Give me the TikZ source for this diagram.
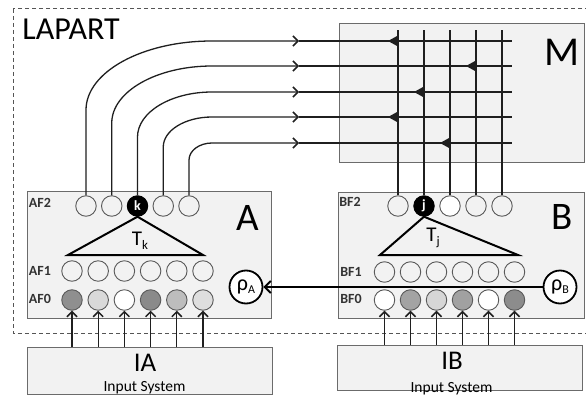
\documentclass[tikz,border=0pt]{standalone}
\usepackage{fontspec}
\setmainfont{Carlito}
\usetikzlibrary{arrows.meta}
\definecolor{boxc}{HTML}{6B6B6B}
\definecolor{boxf}{HTML}{F2F2F2}
\definecolor{circc}{HTML}{5A5A5A}
\definecolor{dashc}{HTML}{555555}
\newcommand{\fs}[1]{\fontsize{#1}{#1}\selectfont}
\begin{document}
\begin{tikzpicture}[x=1pt,y=-1pt,
  box/.style={draw=boxc, fill=boxf, line width=1pt, inner sep=0pt},
  neur/.style={circle, draw=circc, line width=0.9pt, minimum size=20.5pt, inner sep=0pt},
  winner/.style={circle, draw=black, fill=black, line width=0.9pt, minimum size=20.5pt, inner sep=0pt, text=white, font=\fs{14}\bfseries},
  rho/.style={circle, draw=black, fill=white, line width=1.8pt, minimum size=33pt, inner sep=0pt},
  wire/.style={line width=1.3pt, draw=black!88},
  chev/.tip={Straight Barb[length=5pt,width=10pt,line width=1.5pt]},
  layer/.style={font=\fs{14}\bfseries, text=black!80, inner sep=0pt},
  big/.style={font=\fs{39}, inner sep=0pt},
  tri/.style={line width=2pt, line join=miter}
]
\useasboundingbox (0,0) rectangle (586,396);
% outer dashed LAPART frame
\draw[dashc, line width=1pt, dash pattern=on 4pt off 3pt] (13,9) rectangle (600,333);
\node[font=\fs{32}, inner sep=0pt] (lapart) at (71,29) {LAPART};

% boxes
\node[box, anchor=north west, minimum width=245pt, minimum height=139pt] (M) at (339,23) {};
\node[box, anchor=north west, minimum width=244pt, minimum height=127pt] (A) at (27,191) {};
\node[box, anchor=north west, minimum width=246pt, minimum height=126pt] (B) at (338,192) {};
\node[box, anchor=north west, minimum width=245pt, minimum height=47pt] (IA) at (27,347) {};
\node[box, anchor=north west, minimum width=245pt, minimum height=45pt] (IB) at (337,345) {};

\node[big] (Mlbl) at (562,52) {\fs{41}M};
\node[big] (Albl) at (248,218) {A};
\node[big] (Blbl) at (562,217) {B};
\node[font=\fs{27}, inner sep=0pt] (IAlbl) at (145,363) {IA};
\node[font=\fs{27}, inner sep=0pt] (IBlbl) at (452,361) {IB};
\node[font=\fs{15.5}, inner sep=0pt, anchor=base] (IAsys) at (144.5,391) {Input System};
\node[font=\fs{15.5}, inner sep=0pt, anchor=base] (IBsys) at (451.5,392) {Input System};

% layer labels
\node[layer] (af2) at (40,203) {AF2};
\node[layer] (af1) at (40,271) {AF1};
\node[layer] (af0) at (40,299) {AF0};
\node[layer] (bf2) at (350,202) {BF2};
\node[layer] (bf1) at (351,272) {BF1};
\node[layer] (bf0) at (351,299) {BF0};

% F2 layers
\foreach \i/\x in {1/86,2/111.75,3/137.5,4/163.25,5/189} {
  \ifnum\i=3
    \node[winner] (a2-\i) at (\x,206) {k};
  \else
    \node[neur] (a2-\i) at (\x,206) {};
  \fi
}
\foreach \i/\x in {1/398,2/424,3/450,4/476,5/502} {
  \ifnum\i=2
    \node[winner] (b2-\i) at (\x,206) {j};
  \else\ifnum\i=3
    \node[neur, fill=white] (b2-\i) at (\x,206) {};
  \else
    \node[neur] (b2-\i) at (\x,206) {};
  \fi\fi
}
% F1 layers
\foreach \i in {1,...,6} {
  \node[neur] (a1-\i) at ({72+26.2*(\i-1)},271) {};
  \node[neur] (b1-\i) at ({384.5+26*(\i-1)},272) {};
}
% F0 layers
\foreach \c [count=\i] in {black!44, black!15, white, black!46, black!26, black!13} {
  \node[neur, fill=\c] (a0-\i) at ({72+26.2*(\i-1)},300) {};
}
\foreach \c [count=\i] in {white, black!36, black!16, black!37, white, black!45} {
  \node[neur, fill=\c] (b0-\i) at ({384.5+26*(\i-1)},300) {};
}

% triangles
\draw[tri] (a2-3.south) -- (68,255) -- (203,255) -- cycle;
\draw[tri] (b2-2.south) -- (380,255) -- (518,255) -- cycle;
\node[inner sep=0pt] (Tk) at (140,241) {\fs{21}T\raisebox{-4pt}{\fs{13}k}};
\node[inner sep=0pt] (Tj) at (433,238) {\fs{21}T\raisebox{-4pt}{\fs{13}j}};

% rho nodes and reset arrow
\node[rho] (rhoA) at (246,287) {\fs{22}ρ\raisebox{-3pt}{\fs{12}A}};
\node[rho] (rhoB) at (560,287) {\fs{22}ρ\raisebox{-3pt}{\fs{12}B}};
\draw[line width=2pt, -{Straight Barb[length=6pt,width=12pt,line width=2pt]}] (rhoB.west) -- (rhoA.east);

% input arrows
\foreach \i in {1,...,6} {
  \draw[wire, -chev] (a0-\i.south |- IA.north) -- (a0-\i.south);
  \draw[wire, -chev] (b0-\i.south |- IB.north) -- (b0-\i.south);
}

% F2 of A to M
\foreach \i/\x/\yh/\rx/\ry in {1/86/41/126/69, 2/111.75/66/100.25/57, 3/137.5/92/74.5/45, 4/163.25/117/48.75/30, 5/189/143/23/17} {
  \coordinate (h\i) at (299,\yh);
  \coordinate (m\i) at (512,\yh);
  \draw[wire, -chev] (a2-\i.north) -- (\x,{\yh+\ry})
     .. controls (\x,{\yh+0.448*\ry}) and ({212-0.552*\rx},\yh) .. (212,\yh) -- (h\i);
  \draw[wire] (h\i) -- (m\i);
}
% F2 of B up into M
\foreach \i in {1,...,5} {
  \coordinate (t\i) at (b2-\i.north |- 0,30);
  \draw[wire] (b2-\i.north) -- (t\i);
}
% learned map weights
\foreach \r/\c in {1/1, 2/4, 3/2, 4/1, 5/3} {
  \fill[black!88] (b2-\c.north |- m\r) ++(0,-5.5) -- ++(-10,5.5) -- ++(10,5.5) -- cycle;
}
\end{tikzpicture}
\end{document}
